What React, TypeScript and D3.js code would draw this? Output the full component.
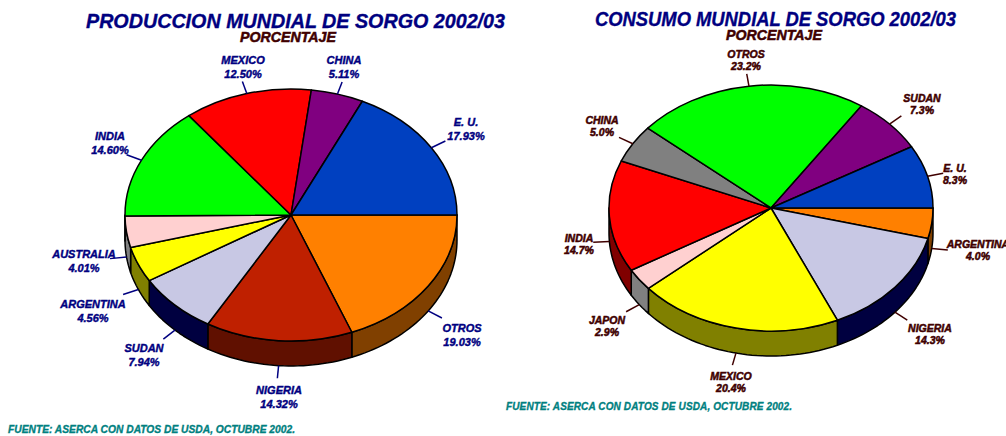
import React from "react";
import * as d3 from "d3";

// ---- data (clockwise from 3 o'clock) ----
const prodCategories = ["OTROS", "NIGERIA", "SUDAN", "ARGENTINA", "AUSTRALIA", "INDIA", "MEXICO", "CHINA", "E. U."];
const prodValues = [19.03, 14.32, 7.94, 4.56, 4.01, 14.6, 12.5, 5.11, 17.93];
const prodColors = ["#FF8000", "#BF2000", "#C8C8E4", "#FFFF00", "#FFD0D0", "#00FF00", "#FF0000", "#800080", "#0040C0"];
const prodSides = ["#804000", "#601000", "#000040", "#808000", "#808080", "#008000", "#800000", "#400040", "#002060"];

const consCategories = ["ARGENTINA", "NIGERIA", "MEXICO", "JAPON", "INDIA", "CHINA", "OTROS", "SUDAN", "E. U."];
const consValues = [4.0, 14.3, 20.4, 2.9, 14.7, 5.0, 23.2, 7.3, 8.3];
const consColors = ["#FF8000", "#C8C8E4", "#FFFF00", "#FFD0D0", "#FF0000", "#808080", "#00FF00", "#800080", "#0040C0"];
const consSides = ["#804000", "#000040", "#808000", "#808080", "#800000", "#404040", "#008000", "#400040", "#002060"];

// ---- layout, separate from the data ----
const prodLabelPos: Record<string, [number, number]> = {
  OTROS: [462, 332], NIGERIA: [279, 394], SUDAN: [144, 352], ARGENTINA: [93, 308], AUSTRALIA: [84, 258],
  INDIA: [110, 140], MEXICO: [243, 64], CHINA: [344, 64], "E. U.": [466, 126],
};
const consLabelPos: Record<string, [number, number]> = {
  ARGENTINA: [978, 248], NIGERIA: [930, 332], MEXICO: [731, 380], JAPON: [607, 324], INDIA: [579, 242],
  CHINA: [602, 124], OTROS: [746, 58], SUDAN: [922, 102], "E. U.": [955, 172],
};

const FONT = "'Liberation Sans', Arial, sans-serif";

type PieProps = {
  categories: string[]; values: number[]; colors: string[]; sides: string[];
  labelPos: Record<string, [number, number]>;
  cx: number; cy: number; rx: number; ry: number; depth: number;
  textColor: string; fontSize: number; lineHeight: number; digits: number; halo: number;
};

function Pie3D(p: PieProps) {
  const { cx, cy, rx, ry, depth } = p;
  const pie = d3.pie<number>().sort(null).startAngle(Math.PI / 2).endAngle(Math.PI / 2 + 2 * Math.PI);
  const arcs = pie(p.values);
  const arc = d3.arc<d3.PieArcDatum<number>>().innerRadius(0).outerRadius(rx);
  const fmt = d3.format(`.${p.digits}f`);
  const px = (t: number) => cx + rx * Math.cos(t);
  const py = (t: number) => cy + ry * Math.sin(t);
  const line = d3.line<[number, number]>();

  return (
    <g>
      {arcs.map((a, i) => {
        const t0 = Math.max(0, a.startAngle - Math.PI / 2);
        const t1 = Math.min(Math.PI, a.endAngle - Math.PI / 2);
        if (t1 <= t0) return null;
        const ts = [...d3.range(t0, t1, 0.03), t1];
        const top = ts.map((t) => [px(t), py(t)] as [number, number]);
        const bottom = ts.map((t) => [px(t), py(t) + depth] as [number, number]).reverse();
        return <path key={i} d={line([...top, ...bottom])! + "Z"} fill={p.sides[i]} stroke="#000" strokeWidth={1.5} strokeLinejoin="round" />;
      })}
      <g transform={`translate(${cx},${cy}) scale(1,${ry / rx})`}>
        {arcs.map((a, i) => (
          <path key={i} d={arc(a)!} fill={p.colors[i]} stroke="#000" strokeWidth={1.5} strokeLinejoin="round" style={{ vectorEffect: "non-scaling-stroke" }} />
        ))}
      </g>
      {arcs.map((a, i) => {
        const t = (a.startAngle + a.endAngle) / 2 - Math.PI / 2;
        const front = Math.sin(t) > 0 ? depth : 0;
        const k = 1.1;
        const x1 = px(t), y1 = py(t) + front;
        const x2 = cx + rx * k * Math.cos(t), y2 = cy + ry * k * Math.sin(t) + front;
        const [lx, ly] = p.labelPos[p.categories[i]];
        const txt = { fontFamily: FONT, fontWeight: 700, fontStyle: "italic", fontSize: p.fontSize, fill: p.textColor, textAnchor: "middle" as const, stroke: p.textColor, strokeWidth: p.halo };
        return (
          <g key={i}>
            <line x1={x1} y1={y1} x2={x2} y2={y2} stroke={p.textColor} strokeWidth={1.5} />
            <text x={lx} y={ly} {...txt}>{p.categories[i]}</text>
            <text x={lx} y={ly + p.lineHeight} {...txt}>{fmt(p.values[i])}%</text>
          </g>
        );
      })}
    </g>
  );
}

const titleStyle = { fontFamily: FONT, fontWeight: 700, fontStyle: "italic" as const };

export default function App() {
  return (
    <svg width={1006} height={436} viewBox="0 0 1006 436" style={{ position: "absolute", left: 0, top: 0, background: "#fff" }}>
      <text x={86} y={28} textLength={419} lengthAdjust="spacingAndGlyphs" fontSize={20} fill="#000080" stroke="#000080" strokeWidth={0.35} {...titleStyle}>PRODUCCION MUNDIAL DE SORGO 2002/03</text>
      <text x={288} y={42} textAnchor="middle" textLength={96} lengthAdjust="spacingAndGlyphs" fontSize={14} fill="#400000" stroke="#400000" strokeWidth={0.5} {...titleStyle}>PORCENTAJE</text>
      <text x={595} y={26} textLength={361} lengthAdjust="spacingAndGlyphs" fontSize={20} fill="#000080" stroke="#000080" strokeWidth={0.35} {...titleStyle}>CONSUMO MUNDIAL DE SORGO 2002/03</text>
      <text x={774} y={40} textAnchor="middle" textLength={96} lengthAdjust="spacingAndGlyphs" fontSize={14} fill="#400000" stroke="#400000" strokeWidth={0.5} {...titleStyle}>PORCENTAJE</text>

      <Pie3D categories={prodCategories} values={prodValues} colors={prodColors} sides={prodSides} labelPos={prodLabelPos}
        cx={291} cy={215} rx={166} ry={126} depth={25} textColor="#000080" fontSize={11} lineHeight={14} digits={2} halo={0.4} />
      <Pie3D categories={consCategories} values={consValues} colors={consColors} sides={consSides} labelPos={consLabelPos}
        cx={771} cy={208} rx={162} ry={123} depth={25} textColor="#400000" fontSize={10.5} lineHeight={12} digits={1} halo={0.5} />

      <text x={8} y={433} textLength={287} lengthAdjust="spacingAndGlyphs" fontSize={10} fill="#008080" stroke="#008080" strokeWidth={0.3} {...titleStyle}>FUENTE: ASERCA CON DATOS DE USDA, OCTUBRE 2002.</text>
      <text x={506} y={410} textLength={286} lengthAdjust="spacing" fontSize={10} fill="#008080" stroke="#008080" strokeWidth={0.3} {...titleStyle}>FUENTE: ASERCA CON DATOS DE USDA, OCTUBRE 2002.</text>
    </svg>
  );
}
